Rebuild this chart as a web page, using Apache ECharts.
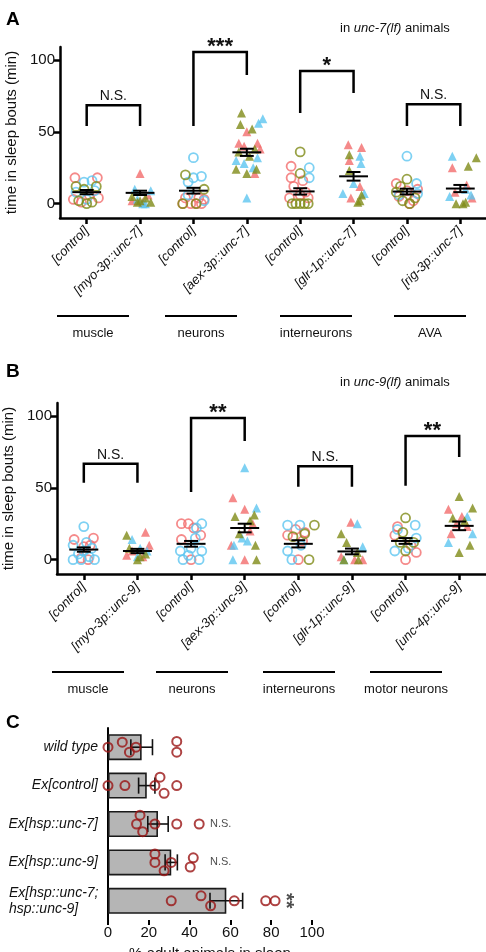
<!DOCTYPE html>
<html>
<head>
<meta charset="utf-8">
<script src="https://cdn.jsdelivr.net/npm/echarts@6/dist/echarts.min.js"></script>
<style>
  html, body { margin: 0; background: #fff; }
  #chart { width: 486px; height: 952px; }
</style>
</head>
<body>
<div id="chart"></div>
<script>
const FONT = '"Liberation Sans", Arial, sans-serif';
const RED = '#f26d6d', BLUE = '#5ec5f0', OLIVE = '#7f8b18';

// ---- panel A: unc-7(lf) ----
const catsA = ['[control]', '[myo-3p::unc-7]', '[control]', '[aex-3p::unc-7]',
  '[control]', '[glr-1p::unc-7]', '[control]', '[rig-3p::unc-7]'];
// points per group: [jitter, minutes]
const redA = [
  [[-0.22, 18], [0.2, 18], [-0.25, 3], [0.22, 4], [0.05, 6], [-0.1, 1]],
  [[0, 21], [0.15, 6], [-0.15, 2], [0.05, 1]],
  [[-0.15, 4], [0.1, 4], [-0.2, 0], [0.05, 0], [0.15, 0], [-0.05, 0], [0.2, 3]],
  [[0, 50], [-0.15, 42], [0.2, 42], [0.15, 21], [-0.05, 40], [0.25, 38]],
  [[-0.17, 26], [-0.17, 18], [0.05, 16], [-0.12, 12], [0.1, 8], [0.15, 4], [-0.2, 4], [0, 6]],
  [[-0.1, 41], [0.15, 39], [-0.08, 30], [0.12, 12], [-0.05, 4]],
  [[-0.2, 14], [0.2, 10], [-0.15, 5], [0.12, 2], [0, 9], [0.05, 0]],
  [[-0.15, 25], [0.12, 13], [0.22, 4], [-0.1, 8]]
];
const blueA = [
  [[-0.05, 15], [0.1, 16], [-0.2, 8], [0.15, 9], [0, 3]],
  [[-0.1, 10], [0.2, 9], [-0.05, 3], [0.1, 0], [0.05, 0]],
  [[0, 32], [0.15, 19], [0, 18], [-0.1, 15], [-0.1, 6], [0.2, 2]],
  [[0.3, 59], [0.22, 56], [-0.05, 28], [0.12, 25], [0, 4], [-0.2, 30], [0.2, 32]],
  [[0.17, 25], [0.17, 18]],
  [[0.12, 33], [0.14, 28], [-0.2, 7], [0.2, 7], [0, 14]],
  [[0, 33], [0.18, 14], [0.2, 7], [-0.15, 6]],
  [[-0.15, 33], [0.2, 6], [-0.2, 5], [0.1, 10]]
];
const oliveA = [
  [[-0.2, 12], [0.18, 12], [-0.05, 10], [0, 0], [-0.15, 2], [0.1, 1]],
  [[-0.15, 5], [0.1, 4], [0, 2], [0.2, 1], [-0.05, 1]],
  [[-0.15, 20], [0.2, 10], [-0.2, 0], [0.05, 0]],
  [[-0.1, 63], [-0.12, 55], [0.1, 52], [-0.15, 36], [0.15, 38], [-0.2, 24], [0.18, 24], [0, 21], [0.05, 33]],
  [[0, 36], [0, 21], [-0.15, 0], [0, 0], [0.15, 0], [-0.08, 0], [0.08, 0]],
  [[-0.08, 34], [-0.08, 23], [0.08, 1], [0.12, 2], [0.15, 6]],
  [[0, 17], [-0.12, 12], [-0.08, 2], [0.05, 0], [0.15, 4], [-0.2, 8]],
  [[0.3, 32], [0.15, 26], [-0.08, 0], [0.05, 0], [0.1, 1]]
];
const meanA = [8, 7.5, 9, 35.7, 8.5, 19, 8.4, 10.5];
const semA = [1.5, 1.5, 2, 2.5, 2.2, 3, 2, 2.5];
// brackets: [from, to, top, left leg end, right leg end]
const bracketsA = [[0, 1, 68.5, 54, 54], [2, 3, 105.6, 54, 89.5], [4, 5, 92.3, 63, 77], [6, 7, 69.2, 54, 54]];
const sigA = ['N.S.', '***', '*', 'N.S.'];
const groupsA = ['muscle', 'neurons', 'interneurons', 'AVA'];

// ---- panel B: unc-9(lf) ----
const catsB = ['[control]', '[myo-3p::unc-9]', '[control]', '[aex-3p::unc-9]',
  '[control]', '[glr-1p::unc-9]', '[control]', '[unc-4p::unc-9]'];
const redB = [
  [[-0.18, 14], [0.18, 15], [0.12, 10], [-0.05, 1], [0.08, 0], [0, 9]],
  [[0.15, 19], [0.22, 10], [-0.1, 6], [0.1, 2], [-0.2, 3]],
  [[-0.18, 25], [-0.05, 25], [0.05, 22], [-0.18, 14], [0.18, 17], [0, 0]],
  [[-0.22, 43], [0, 35], [-0.25, 10], [0, 0], [0.1, 20], [0.15, 25]],
  [[0.12, 19], [-0.2, 17], [0, 0], [-0.05, 21], [0.08, 13]],
  [[-0.02, 26], [-0.2, 2], [0.2, 0], [0.05, 0]],
  [[-0.15, 23], [-0.2, 17], [0, 0], [0.2, 5], [0.1, 10]],
  [[-0.2, 35], [0.05, 30], [-0.15, 18], [0.15, 23], [-0.05, 25]]
];
const blueB = [
  [[0, 23], [-0.2, 10], [0.15, 8], [-0.1, 4], [0.1, 2], [-0.2, 0], [0.2, 0], [0, 6], [0.05, 12], [-0.05, 0]],
  [[-0.1, 14], [0.05, 8], [0, 2], [0.18, 6]],
  [[0.2, 25], [0.1, 22], [0.08, 15], [-0.2, 6], [0.2, 6], [-0.15, 0], [0.15, 0], [0, 8], [-0.05, 3]],
  [[0, 64], [0.22, 36], [-0.05, 15], [-0.2, 10], [-0.22, 0], [0.05, 13]],
  [[-0.2, 24], [0.03, 24], [-0.2, 6], [-0.12, 0], [0.05, 10]],
  [[0.1, 25], [0.2, 9], [-0.15, 0]],
  [[0.18, 24], [-0.15, 21], [-0.2, 6], [0.2, 15], [0.05, 8]],
  [[0.15, 30], [-0.2, 12], [0.25, 18]]
];
const oliveB = [
  [],
  [[-0.2, 17], [0, 0], [0.15, 4], [-0.15, 8], [0.05, 2]],
  [],
  [[-0.18, 30], [0.18, 31], [0.2, 10], [0.22, 0], [-0.1, 18], [0.1, 27]],
  [[0.3, 24], [-0.1, 16], [0.2, 0], [0.12, 18]],
  [[-0.2, 18], [-0.1, 12], [0.12, 0], [-0.15, 0], [0.1, 5]],
  [[0, 29], [-0.05, 19], [-0.1, 12], [0.15, 12], [0, 6]],
  [[0, 44], [0.25, 36], [-0.12, 29], [0.2, 10], [0, 5], [0.1, 27]]
];
const meanB = [7, 6, 11, 22, 11, 5.7, 13, 23.5];
const semB = [1.5, 1.5, 2, 3, 2.5, 2, 2, 3];
const bracketsB = [[0, 1, 66.7, 53.5, 53.5], [2, 3, 98.6, 47, 82.6], [4, 5, 65, 50.7, 50.7], [6, 7, 86, 51.4, 71.5]];
const sigB = ['N.S.', '**', 'N.S.', '**'];
const groupsB = ['muscle', 'neurons', 'interneurons', 'motor neurons'];

// ---- panel C: % adult animals in sleep ----
const catsC = ['wild type', 'Ex[control]', 'Ex[hsp::unc-7]', 'Ex[hsp::unc-9]', 'Ex[hsp::unc-7;\nhsp::unc-9]'];
const meanC = [16.5, 19, 24.5, 31, 58];
const semC = [5.3, 4, 5, 3, 8];
// trials per row: [percent, vertical jitter]
const dotsC = [
  [[0, 0], [7, -0.13], [10.5, 0.13], [13.7, 0], [33.7, -0.15], [33.7, 0.13]],
  [[0, 0], [8.3, 0], [23, 0], [25.5, -0.22], [27.5, 0.2], [33.7, 0]],
  [[15.7, -0.23], [14, 0], [17, 0.2], [23, 0], [33.7, 0], [44.7, 0]],
  [[23, -0.22], [23, 0], [27.5, 0.22], [31, 0], [41.8, -0.12], [40.3, 0.12]],
  [[31, 0], [45.6, -0.13], [50.3, 0.13], [61.9, 0], [77.3, 0], [81.9, 0]]
];
const sigRowC = [2, 3, 4];
const sigXC = [50, 50, 88];
const sigTextC = ['N.S.', 'N.S.', '**'];

const AX = { color: '#000', width: 2.5 };

function pointSeries(groups, color, axis) {
  const circ = [], tri = [];
  groups.forEach((g, i) => g.forEach(p => (i % 2 === 0 ? circ : tri).push([i + p[0], p[1]])));
  return [
    { type: 'scatter', xAxisIndex: axis, yAxisIndex: axis, data: circ, symbol: 'circle', symbolSize: 9,
      itemStyle: { color: 'transparent', borderColor: color, borderWidth: 1.8 }, silent: true },
    { type: 'scatter', xAxisIndex: axis, yAxisIndex: axis, data: tri, symbol: 'triangle', symbolSize: 9,
      itemStyle: { color: color }, silent: true }
  ];
}

function meanSeries(means, sems, axis) {
  return {
    type: 'custom', xAxisIndex: axis, yAxisIndex: axis, silent: true, z: 5,
    data: means.map((m, i) => [i, m, sems[i]]),
    renderItem: function (params, api) {
      const i = api.value(0), m = api.value(1), s = api.value(2);
      const st = { stroke: '#000', lineWidth: 2 };
      const l = (a, b) => ({ type: 'line', shape: { x1: a[0], y1: a[1], x2: b[0], y2: b[1] }, style: st });
      return { type: 'group', children: [
        l(api.coord([i - 0.27, m]), api.coord([i + 0.27, m])),
        l(api.coord([i, m - s]), api.coord([i, m + s])),
        l(api.coord([i - 0.13, m + s]), api.coord([i + 0.13, m + s])),
        l(api.coord([i - 0.13, m - s]), api.coord([i + 0.13, m - s]))
      ] };
    }
  };
}

function bracketSeries(brackets, labels, axis) {
  return {
    type: 'custom', xAxisIndex: axis, yAxisIndex: axis, silent: true, z: 5,
    data: brackets,
    renderItem: function (params, api) {
      const x0 = api.value(0), x1 = api.value(1), top = api.value(2);
      const pts = [api.coord([x0, api.value(3)]), api.coord([x0, top]), api.coord([x1, top]), api.coord([x1, api.value(4)])];
      const txt = labels[params.dataIndex];
      const stars = txt.indexOf('*') >= 0;
      return { type: 'group', children: [
        { type: 'polyline', shape: { points: pts }, style: { stroke: '#000', lineWidth: 2.5, fill: null } },
        { type: 'text', style: { text: txt, x: (pts[1][0] + pts[2][0]) / 2, y: pts[1][1] + (stars ? 6 : -2),
          align: 'center', verticalAlign: 'bottom', fill: '#111',
          font: stars ? 'bold 22px ' + FONT : '14px ' + FONT } }
      ] };
    }
  };
}

function dotAxes(cats, grid, name) {
  const ticks = cats.map((c, i) => i);
  return {
    x: { gridIndex: grid, type: 'value', min: -0.5, max: 7.5,
      axisLine: { onZero: false, lineStyle: AX }, splitLine: { show: false },
      axisTick: { customValues: ticks, length: 6, lineStyle: AX },
      axisLabel: { customValues: ticks, formatter: v => cats[v], rotate: 45, margin: 11,
        fontStyle: 'italic', fontSize: 13, color: '#111', fontFamily: FONT } },
    y: { gridIndex: grid, type: 'value', min: -10, max: 109,
      axisLine: { show: true, onZero: false, lineStyle: AX }, splitLine: { show: false },
      axisTick: { show: true, customValues: [0, 50, 100], length: 6, lineStyle: AX },
      axisLabel: { customValues: [0, 50, 100], fontSize: 15, color: '#111', margin: 5, fontFamily: FONT },
      name: name, nameLocation: 'middle', nameGap: 38,
      nameTextStyle: { fontSize: 15, color: '#111', fontFamily: FONT } }
  };
}

const axA = dotAxes(catsA, 0, 'time in sleep bouts (min)');
const axB = dotAxes(catsB, 1, 'time in sleep bouts (min)');

function groupGraphics(groups, xs, yLine) {
  const out = [];
  groups.forEach((g, i) => {
    out.push({ type: 'line', shape: { x1: xs[i], y1: yLine, x2: xs[i] + 72, y2: yLine }, style: { stroke: '#000', lineWidth: 2 } });
    out.push({ type: 'text', style: { text: g, x: xs[i] + 36, y: yLine + 17, align: 'center', verticalAlign: 'middle',
      font: '13px ' + FONT, fill: '#111' } });
  });
  return out;
}

function headline(gene, y) {
  return { type: 'text', style: { x: 340, y: y, verticalAlign: 'middle',
    text: '{n|in }{i|' + gene + '}{n| animals}',
    rich: { n: { fontSize: 13, fontFamily: FONT, fill: '#111' }, i: { fontSize: 13, fontStyle: 'italic', fontFamily: FONT, fill: '#111' } } } };
}

const option = {
  animation: false,
  backgroundColor: '#fff',
  grid: [
    { left: 60, top: 47, width: 427, height: 171, outerBoundsMode: 'none' },
    { left: 57, top: 403, width: 429, height: 171, outerBoundsMode: 'none' },
    { left: 108, top: 728, width: 204, height: 192, outerBoundsMode: 'none' },
    { left: 108, top: 728, width: 204, height: 192, outerBoundsMode: 'none' }
  ],
  xAxis: [
    axA.x, axB.x,
    { gridIndex: 2, type: 'value', min: 0, max: 100, interval: 20,
      axisLine: { onZero: false, lineStyle: { color: '#000', width: 2 } }, splitLine: { show: false },
      axisTick: { show: true, length: 5, lineStyle: { color: '#000', width: 2 } },
      axisLabel: { fontSize: 15, color: '#111', margin: 5, fontFamily: FONT },
      name: '% adult animals in sleep', nameLocation: 'middle', nameGap: 26,
      nameTextStyle: { fontSize: 15, color: '#111', fontFamily: FONT } },
    { gridIndex: 3, type: 'value', min: 0, max: 100, show: false }
  ],
  yAxis: [
    axA.y, axB.y,
    { gridIndex: 2, type: 'category', data: catsC, inverse: true,
      axisLine: { onZero: false, lineStyle: { color: '#000', width: 2 } }, axisTick: { show: false },
      axisLabel: { margin: 10, fontSize: 14, fontStyle: 'italic', color: '#111', fontFamily: FONT,
        formatter: (v, i) => i === 4 ? '{l|Ex[hsp::unc-7;}\n{l|hsp::unc-9]}' : v,
        rich: { l: { width: 89, align: 'left', fontSize: 14, fontStyle: 'italic', lineHeight: 16, fontFamily: FONT, color: '#111' } } } },
    { gridIndex: 3, type: 'value', min: -0.5, max: 4.5, inverse: true, show: false }
  ],
  graphic: [
    { type: 'text', style: { text: 'A', x: 6, y: 20, verticalAlign: 'middle', font: 'bold 19px ' + FONT, fill: '#000' } },
    { type: 'text', style: { text: 'B', x: 6, y: 372, verticalAlign: 'middle', font: 'bold 19px ' + FONT, fill: '#000' } },
    { type: 'text', style: { text: 'C', x: 6, y: 723, verticalAlign: 'middle', font: 'bold 19px ' + FONT, fill: '#000' } },
    headline('unc-7(lf)', 28),
    headline('unc-9(lf)', 382),
    ...groupGraphics(groupsA, [57, 165, 280, 394], 316),
    ...groupGraphics(groupsB, [52, 156, 263, 370], 672)
  ],
  series: [
    ...pointSeries(redA, RED, 0), ...pointSeries(blueA, BLUE, 0), ...pointSeries(oliveA, OLIVE, 0),
    meanSeries(meanA, semA, 0),
    bracketSeries(bracketsA, sigA, 0),
    ...pointSeries(redB, RED, 1), ...pointSeries(blueB, BLUE, 1), ...pointSeries(oliveB, OLIVE, 1),
    meanSeries(meanB, semB, 1),
    bracketSeries(bracketsB, sigB, 1),
    { type: 'bar', xAxisIndex: 2, yAxisIndex: 2, data: meanC, barWidth: 26, silent: true,
      itemStyle: { color: '#b5b5b5', borderColor: '#1a1a1a', borderWidth: 1.6 } },
    { type: 'custom', xAxisIndex: 3, yAxisIndex: 3, silent: true, z: 4,
      data: meanC.map((m, i) => [m, i, semC[i]]),
      renderItem: function (params, api) {
        const m = api.value(0), i = api.value(1), s = api.value(2);
        const st = { stroke: '#111', lineWidth: 1.6 };
        const l = (a, b) => ({ type: 'line', shape: { x1: a[0], y1: a[1], x2: b[0], y2: b[1] }, style: st });
        return { type: 'group', children: [
          l(api.coord([m - s, i]), api.coord([m + s, i])),
          l(api.coord([m - s, i - 0.21]), api.coord([m - s, i + 0.21])),
          l(api.coord([m + s, i - 0.21]), api.coord([m + s, i + 0.21]))
        ] };
      } },
    { type: 'scatter', xAxisIndex: 3, yAxisIndex: 3, silent: true, z: 5,
      data: dotsC.flatMap((row, i) => row.map(p => [p[0], i + p[1]])),
      symbol: 'circle', symbolSize: 9,
      itemStyle: { color: 'transparent', borderColor: '#9a1414', borderWidth: 2 } },
    { type: 'scatter', xAxisIndex: 3, yAxisIndex: 3, silent: true, symbolSize: 0,
      data: sigRowC.map((r, k) => ({ value: [sigXC[k], r],
        label: sigTextC[k] === '**' ? { rotate: -90, fontSize: 20, fontWeight: 'bold', align: 'center', offset: [0, 2] } : {} })),
      label: { show: true, position: 'inside', align: 'left', fontSize: 11, color: '#222', fontFamily: FONT,
        formatter: p => sigTextC[p.dataIndex] } }
  ]
};

const chart = echarts.init(document.getElementById('chart'));
chart.setOption(option);
</script>
</body>
</html>
